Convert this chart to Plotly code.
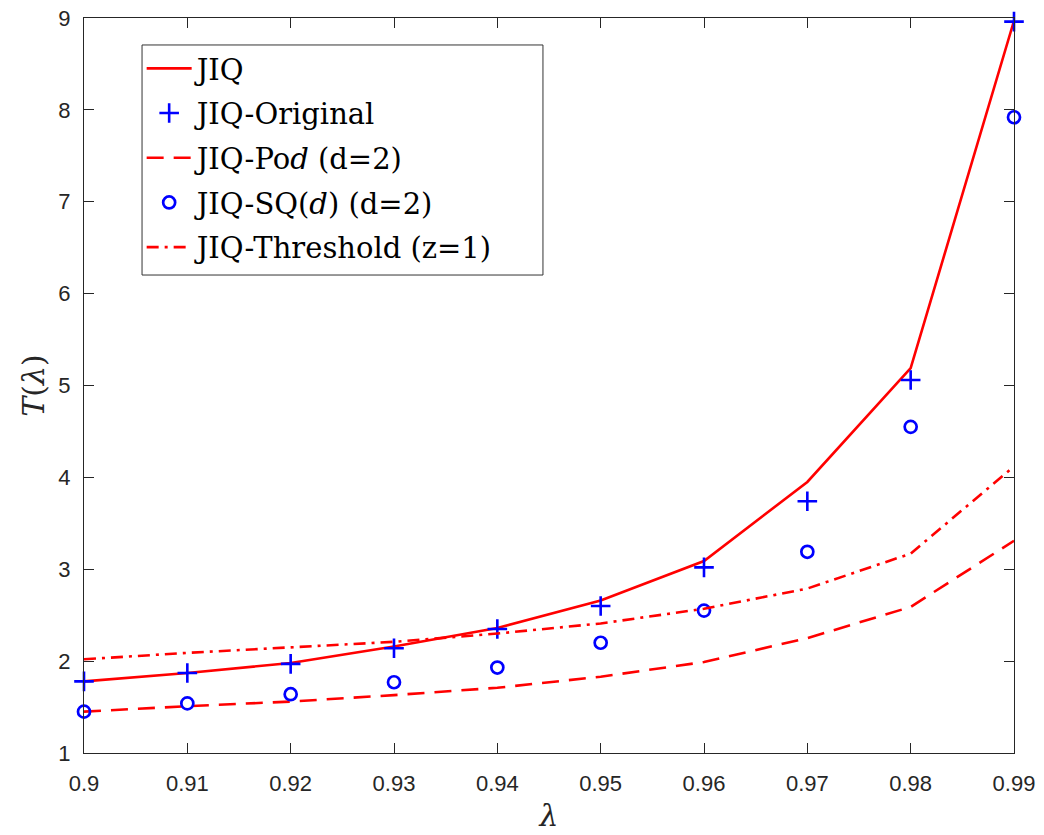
import plotly.graph_objects as go

# Arrival rate lambda
lam = [0.90, 0.91, 0.92, 0.93, 0.94, 0.95, 0.96, 0.97, 0.98, 0.99]

# Mean response time T(lambda) for each policy
jiq = [1.78, 1.87, 1.98, 2.16, 2.36, 2.66, 3.09, 3.95, 5.19, 8.97]
jiq_original = [1.78, 1.87, 1.97, 2.14, 2.35, 2.60, 3.02, 3.74, 5.06, 8.96]
jiq_pod = [1.45, 1.51, 1.56, 1.63, 1.71, 1.83, 1.99, 2.25, 2.59, 3.31]
jiq_sqd = [1.45, 1.54, 1.64, 1.77, 1.93, 2.20, 2.55, 3.19, 4.55, 7.92]
jiq_threshold = [2.02, 2.09, 2.15, 2.21, 2.30, 2.41, 2.57, 2.79, 3.17, 4.12]

x_ticks = [0.90, 0.91, 0.92, 0.93, 0.94, 0.95, 0.96, 0.97, 0.98, 0.99]
x_ticktext = ["0.9", "0.91", "0.92", "0.93", "0.94", "0.95", "0.96", "0.97", "0.98", "0.99"]
y_ticks = [1, 2, 3, 4, 5, 6, 7, 8, 9]

RED = "#ff0000"
BLUE = "#0000ff"
AX = "#262626"

fig = go.Figure()
fig.add_trace(go.Scatter(x=lam, y=jiq, mode="lines", name="JIQ",
                         line=dict(color=RED, width=2.6), legendgroup="a",
                         cliponaxis=False))
fig.add_trace(go.Scatter(x=lam, y=jiq_original, mode="markers", name="JIQ-Original",
                         marker=dict(symbol="cross-thin", size=14,
                                     line=dict(color=BLUE, width=2.6)),
                         legendgroup="b", cliponaxis=False))
fig.add_trace(go.Scatter(x=lam, y=jiq_pod, mode="lines", name="JIQ-Po<i>d</i> (d=2)",
                         line=dict(color=RED, width=2.6, dash="17px,10px"),
                         legendgroup="c", cliponaxis=False))
fig.add_trace(go.Scatter(x=lam, y=jiq_sqd, mode="markers",
                         name="JIQ-SQ(<i>d</i>) (d=2)",
                         marker=dict(symbol="circle-open", size=12, color=BLUE,
                                     line=dict(color=BLUE, width=2.7)),
                         legendgroup="d", cliponaxis=False))
fig.add_trace(go.Scatter(x=lam, y=jiq_threshold, mode="lines",
                         name="JIQ-Threshold (z=1)",
                         line=dict(color=RED, width=2.6, dash="12px,6px,3px,6px"),
                         legendgroup="e", cliponaxis=False))

axis_common = dict(
    showgrid=False, zeroline=False, showline=True, linecolor=AX, linewidth=1.4,
    mirror="ticks", ticks="inside", ticklen=10, tickcolor=AX, tickwidth=1.4,
    automargin=False,
    tickfont=dict(family="Liberation Sans, Arial, sans-serif", size=22, color=AX),
)

# Framed legend box
legend_frame = dict(type="rect", xref="paper", yref="paper",
                    x0=0.0624, x1=0.4935, y0=0.6503, y1=0.9633,
                    line=dict(color="#333333", width=1), fillcolor="white",
                    layer="below")

fig.update_layout(
    width=1044, height=835,
    margin=dict(l=84, r=30, t=18, b=82),
    paper_bgcolor="white", plot_bgcolor="white",
    xaxis=dict(range=[0.9, 0.99], tickvals=x_ticks, ticktext=x_ticktext,
               ticklabelstandoff=10,
               title=dict(text="<i>λ</i>", standoff=10,
                          font=dict(family="DejaVu Serif, serif", size=30, color=AX)),
               **axis_common),
    yaxis=dict(range=[1, 9], tickvals=y_ticks, ticklabelstandoff=8,
               title=dict(text="<i>T</i>(<i>λ</i>)", standoff=4,
                          font=dict(family="DejaVu Serif, serif", size=30, color=AX)),
               **axis_common),
    shapes=[legend_frame],
    legend=dict(
        x=0.062, y=0.966, xanchor="left", yanchor="top",
        bgcolor="rgba(0,0,0,0)", borderwidth=0,
        font=dict(family="DejaVu Serif, serif", size=29, color="black"),
        itemwidth=45, tracegroupgap=4, traceorder="grouped",
    ),
    showlegend=True,
)

fig.write_html("out.html")
